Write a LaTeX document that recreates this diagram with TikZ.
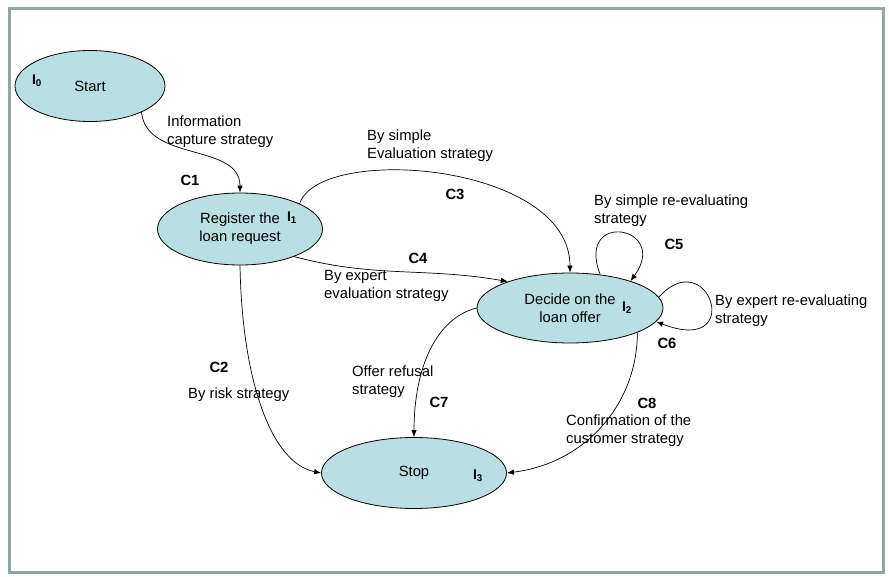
\documentclass[tikz,border=0pt]{standalone}
\usepackage{fontspec}
\setmainfont{Liberation Sans}
\usepackage{tikz}
\usetikzlibrary{shapes.geometric}
\usetikzlibrary {arrows.meta}
\definecolor{phasefill}{RGB}{185,223,227}
\definecolor{framegray}{RGB}{143,166,168}
\tikzset{phase/.style={ellipse,draw=black,fill=phasefill,line width=0.8pt,
inner sep=0pt,align=center,font=\fontsize{14.8}{18}\selectfont}}
\tikzset{phaseid/.style={inner sep=0pt,font=\bfseries\fontsize{14}{16}\selectfont}}
\tikzset{cond/.style={inner sep=0pt,font=\bfseries\fontsize{14.8}{17}\selectfont}}
\tikzset{strategy/.style={anchor=west,align=left,inner sep=0pt,
font=\fontsize{14.8}{18}\selectfont}}
\tikzset{link/.style={line width=0.7pt,-{Latex[length=7pt,width=5.5pt]}}}

\begin{document}
\begin{tikzpicture}[x=1pt,y=-1pt]

        \fill[white] (0,0) rectangle (889,577);
        \useasboundingbox (0,0) rectangle (889,577);
        \draw[framegray,line width=3pt] (9,9) rectangle (883,572);

        \node[phase,minimum width=150pt,minimum height=71pt] (start) at (90,86) {Start};
        \node[phase,minimum width=165pt,minimum height=72pt] (reg) at (240,229) {Register the\\loan request};
        \node[phase,minimum width=186pt,minimum height=70pt] (dec) at (570,308) {Decide on the\\loan offer};
        \node[phase,minimum width=185pt,minimum height=71pt] (stop) at (414,473) {Stop};

        \node[phaseid] (idStart) at (37,81) {I\textsubscript{0}};
        \node[phaseid] (idReg) at (292,218) {I\textsubscript{1}};
        \node[phaseid] (idDec) at (627,308) {I\textsubscript{2}};
        \node[phaseid] (idStop) at (478,476) {I\textsubscript{3}};

        \draw[link] (start.-27) .. controls +(5,50) and +(0,-50) .. (reg.north);
        \draw[link] (reg.south) .. controls +(2,115) and +(-50,-10) .. (stop.west);
        \draw[link] (reg.23) .. controls +(20,-60) and +(0,-110) .. (dec.north);
        \draw[link] (reg.-27) to[out=-15,in=170] (dec.157);
        \draw[link] (dec.48) .. controls +(-25,-65) and +(40,-55) .. (dec.24);
        \draw[link] (dec.7) .. controls +(50,-55) and +(90,35) .. (dec.-9);
        \draw[link] (dec.west) .. controls +(-40,10) and +(0,-70) .. (stop.north);
        \draw[link] (dec.-20) .. controls +(0,70) and +(80,-10) .. (stop.east);

        \node[cond] (lblC1) at (190,180) {C1};
        \node[cond] (lblC2) at (219,367) {C2};
        \node[cond] (lblC3) at (455,194) {C3};
        \node[cond] (lblC4) at (418,258) {C4};
        \node[cond] (lblC5) at (674,244) {C5};
        \node[cond] (lblC6) at (667,343) {C6};
        \node[cond] (lblC7) at (439,402) {C7};
        \node[cond] (lblC8) at (647,403) {C8};

        \node[strategy] (stInfo) at (167,132) {Information\\capture strategy};
        \node[strategy] (stSimpleEval) at (367,146) {By simple\\Evaluation strategy};
        \node[strategy] (stExpertEval) at (324,286) {By expert\\evaluation strategy};
        \node[strategy] (stSimpleRe) at (594,211) {By simple re-evaluating\\strategy};
        \node[strategy] (stExpertRe) at (715,311) {By expert re-evaluating\\strategy};
        \node[strategy] (stRisk) at (188,395) {By risk strategy};
        \node[strategy] (stRefusal) at (352,382) {Offer refusal\\strategy};
        \node[strategy] (stConfirm) at (566,431) {Confirmation of the\\customer strategy};

    \end{tikzpicture}
\end{document}
